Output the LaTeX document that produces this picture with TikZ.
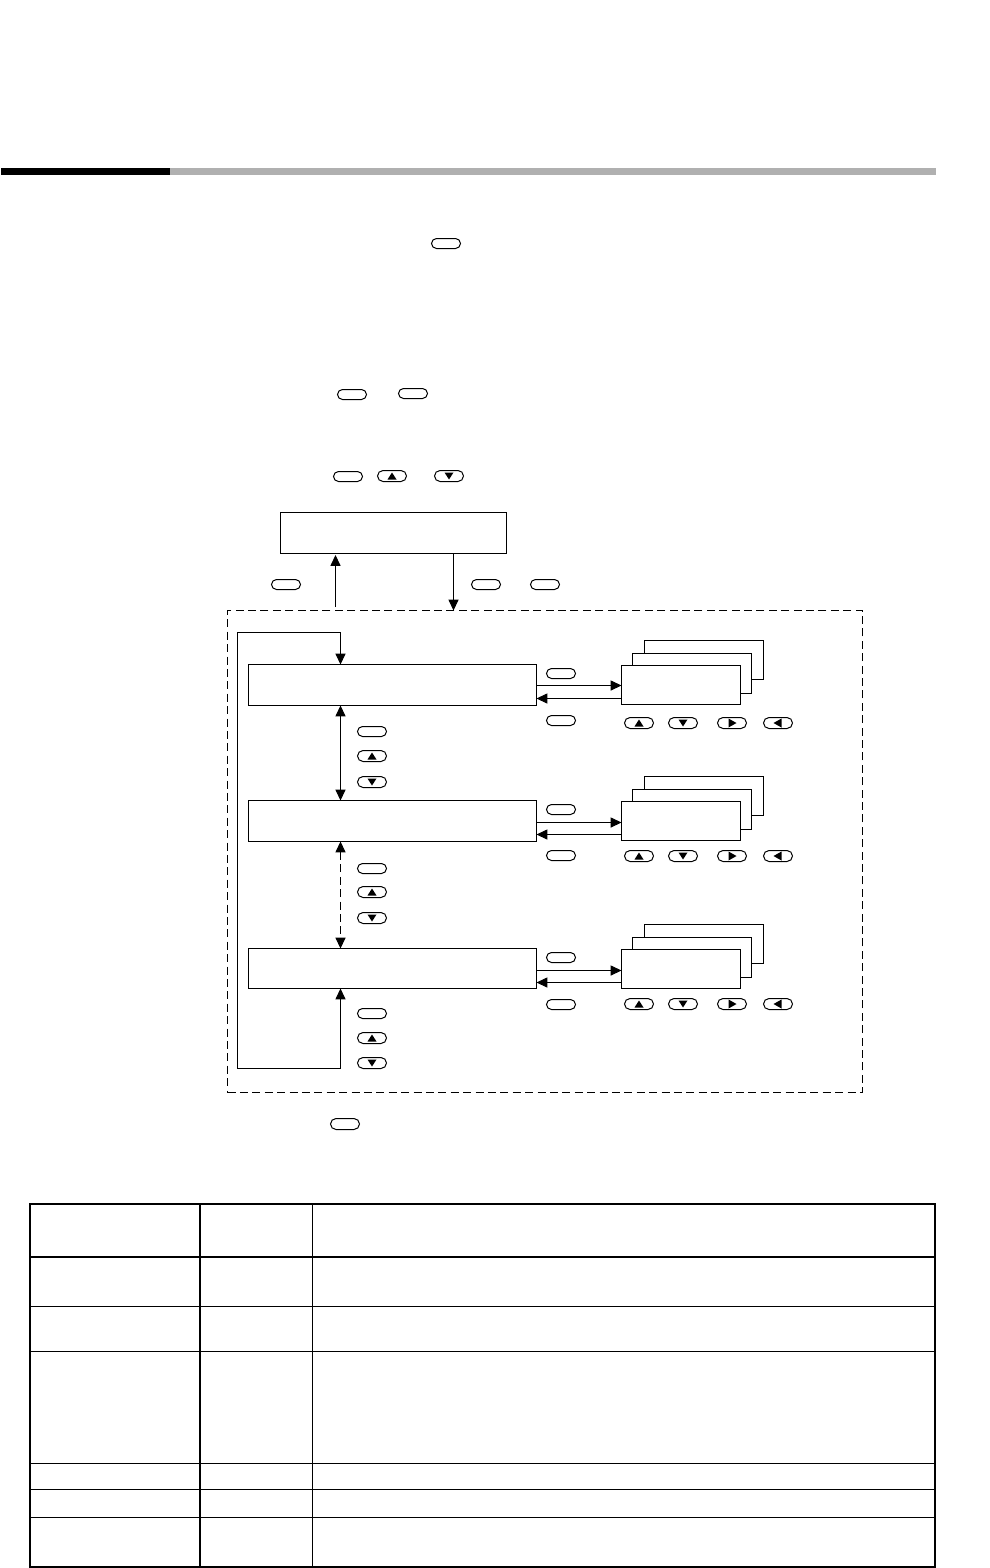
\documentclass[tikz,border=0pt]{standalone}
\usetikzlibrary{arrows.meta,shapes.misc}
\tikzset{
  x=0.5pt,y=-0.5pt,
  ln/.style={line width=0.5pt,draw=black},
  boxa/.style={ln,fill=white,rectangle,inner sep=0pt,outer sep=0pt,anchor=north west},
  arr/.style={ln,-{Triangle[length=5.4pt,width=5pt]}},
  darr/.style={ln,{Triangle[length=5.4pt,width=5pt]}-{Triangle[length=5.4pt,width=5pt]}},
  dash1/.style={dash pattern=on 4pt off 2.2pt},
  keybox/.style={ln,rounded rectangle,inner sep=0pt,outer sep=0pt,minimum width=14.5pt,minimum height=5pt},
  keyup/.style={keybox,minimum height=5.5pt,path picture={\fill ([shift={(-4.5,3.5)}]path picture bounding box.center)--([shift={(4.5,3.5)}]path picture bounding box.center)--([shift={(0,-3.5)}]path picture bounding box.center)--cycle;}},
  keydown/.style={keybox,minimum height=5.5pt,path picture={\fill ([shift={(-4.5,-3.5)}]path picture bounding box.center)--([shift={(4.5,-3.5)}]path picture bounding box.center)--([shift={(0,3.5)}]path picture bounding box.center)--cycle;}},
  keyright/.style={keybox,minimum height=5.5pt,path picture={\fill ([shift={(-3.5,-4.5)}]path picture bounding box.center)--([shift={(-3.5,4.5)}]path picture bounding box.center)--([shift={(4.5,0)}]path picture bounding box.center)--cycle;}},
  keyleft/.style={keybox,minimum height=5.5pt,path picture={\fill ([shift={(3.5,-4.5)}]path picture bounding box.center)--([shift={(3.5,4.5)}]path picture bounding box.center)--([shift={(-4.5,0)}]path picture bounding box.center)--cycle;}},
  thick1/.style={line width=1pt,draw=black,line cap=rect},
  thin1/.style={line width=0.5pt,draw=black},
}
\begin{document}
\begin{tikzpicture}
\path[use as bounding box,fill=white] (0,0) rectangle (990,1568);
% header bar
\fill[black] (1,168) rectangle (170,175);
\fill[black!31] (170,168) rectangle (936,175);
% keys in the upper text
\node[keybox] (k1) at (446,243.5) {};
\node[keybox] (k2) at (352,394.5) {};
\node[keybox] (k3) at (413,393.5) {};
\node[keybox] (k4) at (348,476.5) {};
\node[keyup] (k5) at (392,476) {};
\node[keydown] (k6) at (449,476) {};
% top box
\node[boxa,minimum width=113pt,minimum height=20.5pt] (top) at (280.5,512.5) {};
\node[keybox] (k7) at (286,584.5) {};
\node[keybox] (k8) at (486,584.5) {};
\node[keybox] (k9) at (545,584.5) {};
% dashed frame
\node[ln,dash1,rectangle,inner sep=0pt,outer sep=0pt,anchor=north west,minimum width=317.5pt,minimum height=241pt] (frame) at (227.5,610.5) {};
\coordinate (upstart) at (335.5,607);
\coordinate (upend) at (335.5,555);
\draw[arr] (upstart) -- (upend);
\coordinate (downx) at (453.5,0);
\draw[arr] (top.south -| downx) -- (frame.north -| downx);
% mode boxes
\node[boxa,minimum width=144pt,minimum height=20.5pt] (m1) at (248.5,664.5) {};
\node[boxa,minimum width=144pt,minimum height=20.5pt] (m2) at (248.5,800.5) {};
\node[boxa,minimum width=144pt,minimum height=20pt] (m3) at (248.5,948.5) {};
% loop
\coordinate (la) at (340.5,1068.5);
\coordinate (lb) at (237.5,1068.5);
\coordinate (lc) at (237.5,632.5);
\coordinate (ld) at (340.5,632.5);
\draw[ln] (la) -- (lb) -- (lc) -- (ld);
\draw[arr] (ld) -- (m1.north -| ld);
\draw[arr] (la) -- (m3.south -| la);
\draw[darr] (m1.south -| ld) -- (m2.north -| ld);
\draw[darr,dash1] (m2.south -| ld) -- (m3.north -| ld);
% side keys on the mode column
\foreach \n/\a/\b/\c in {1/731.5/756/782,2/868.5/892/918,3/1013.5/1038/1063}{
  \node[keybox] (s\n a) at (372,\a) {};
  \node[keyup] (s\n b) at (372,\b) {};
  \node[keydown] (s\n c) at (372,\c) {};
}
% detail stacks
\foreach \n/\t/\ra/\rb/\ka/\kb/\kc in {1/665.5/685.5/698.5/673.5/720.5/723,2/801.5/822.5/834.5/809.5/855.5/856,3/949.5/970.5/982.5/957.5/1004.5/1004}{
  \node[boxa,minimum width=59.5pt,minimum height=19.5pt] (b\n) at (644.5,\t-25) {};
  \node[boxa,minimum width=59.5pt,minimum height=20pt] (c\n) at (632.5,\t-12) {};
  \node[boxa,minimum width=59.5pt,minimum height=19.5pt] (f\n) at (621.5,\t) {};
  \coordinate (r\n) at (0,\ra);
  \coordinate (l\n) at (0,\rb);
  \draw[arr] (m\n.east |- r\n) -- (f\n.west |- r\n);
  \draw[arr] (f\n.west |- l\n) -- (m\n.east |- l\n);
  \node[keybox] (ka\n) at (561,\ka) {};
  \node[keybox] (kb\n) at (561,\kb) {};
  \node[keyup] (ku\n) at (639,\kc) {};
  \node[keydown] (kd\n) at (683,\kc) {};
  \node[keyright] (kr\n) at (732,\kc) {};
  \node[keyleft] (kl\n) at (778,\kc) {};
}
\node[keybox,minimum height=5.5pt] (k10) at (345,1124) {};
% table
\draw[thin1] (312.5,1204) -- (312.5,1567);
\draw[thin1] (30,1306.5) -- (935,1306.5);
\draw[thin1] (30,1351.5) -- (935,1351.5);
\draw[thin1] (30,1463.5) -- (935,1463.5);
\draw[thin1] (30,1489.5) -- (935,1489.5);
\draw[thin1] (30,1517.5) -- (935,1517.5);
\draw[thick1] (30,1257) -- (935,1257);
\draw[thick1] (200,1204) -- (200,1567);
\draw[thick1] (30,1204) rectangle (935,1567);
\end{tikzpicture}
\end{document}
